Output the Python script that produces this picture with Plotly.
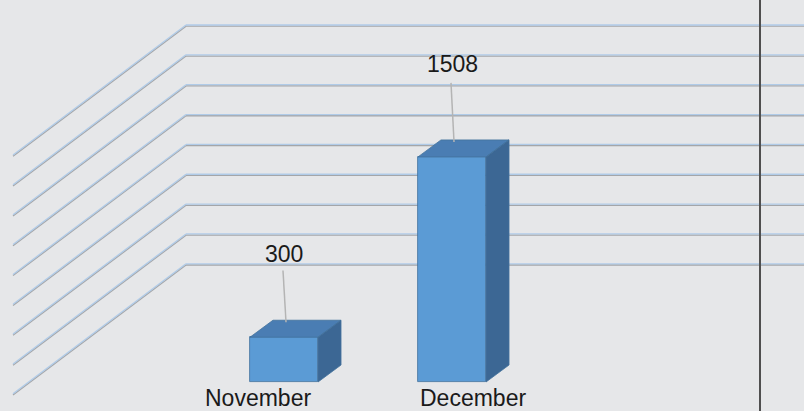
import plotly.graph_objects as go

# data
months = ['November', 'December']
orders = [300, 1508]
grid_values = [0, 200, 400, 600, 800, 1000, 1200, 1400, 1600]

# geometry of the fake 3d box (axis units)
UPP = 6.7                 # value units per pixel
bar_w = 0.405
depth_x = 23 / 168
depth_y = 17 * UPP
wall_left = (186 - 284) / 168
wall_front = (13 - 284) / 168
wall_lift = 117 * UPP
wall_drop = 130 * UPP
x_right = 3.2

front = '#5b9bd5'
top_col = '#4a7db3'
side_col = '#3c6794'
edge = '#41719c'

fig = go.Figure()

# back wall / side wall grid lines, kept under the bars
shapes = []
for g in grid_values:
    yb = g + wall_lift
    for off, col in [(0, '#a4a6a9'), (1.2 * UPP, '#b0cbe8')]:
        shapes.append(dict(type='line', xref='x', yref='y', layer='below',
                           x0=wall_front, y0=yb - wall_drop + off, x1=wall_left, y1=yb + off,
                           line=dict(color=col, width=1.3)))
        shapes.append(dict(type='line', xref='x', yref='y', layer='below',
                           x0=wall_left, y0=yb + off, x1=x_right, y1=yb + off,
                           line=dict(color=col, width=1.3)))

shapes.append(dict(type='line', xref='x', yref='paper', x0=(760 - 284) / 168, x1=(760 - 284) / 168,
                   y0=0, y1=1, line=dict(color='#4f4f4f', width=2)))

# front faces
fig.add_trace(go.Bar(
    x=list(range(len(months))), y=orders, base=0, width=bar_w,
    marker=dict(color=front, line=dict(color=edge, width=0.8)),
    showlegend=False, hoverinfo='skip',
))

# top and side faces
for i, v in enumerate(orders):
    x0 = i - bar_w / 2
    x1 = i + bar_w / 2
    fig.add_trace(go.Scatter(
        x=[x0, x1, x1 + depth_x, x0 + depth_x, x0],
        y=[v, v, v + depth_y, v + depth_y, v],
        mode='lines', fill='toself', fillcolor=top_col,
        line=dict(color=edge, width=0.8), hoverinfo='skip', showlegend=False))
    fig.add_trace(go.Scatter(
        x=[x1, x1, x1 + depth_x, x1 + depth_x, x1],
        y=[0, v, v + depth_y, depth_y, 0],
        mode='lines', fill='toself', fillcolor=side_col,
        line=dict(color=edge, width=0.8), hoverinfo='skip', showlegend=False))
    # leader line
    fig.add_trace(go.Scatter(
        x=[i + 0.012, i - 0.006], y=[v + 15 * UPP, v + (65 + 0.006 * v) * UPP],
        mode='lines', line=dict(color='#b4b4b4', width=1.5),
        hoverinfo='skip', showlegend=False))

annotations = []
for i, v in enumerate(orders):
    annotations.append(dict(x=i, y=v, xref='x', yref='y', text=str(v), showarrow=False,
                            yanchor='middle', yshift=81 + 0.008 * v,
                            font=dict(family='Liberation Sans, Arial', size=23, color='#1a1a1a')))
label_shift = [-26, 21]
for i, m in enumerate(months):
    annotations.append(dict(x=i, y=0, xref='x', yref='y', text=m, showarrow=False,
                            yanchor='middle', yshift=-16, xshift=label_shift[i],
                            font=dict(family='Liberation Sans, Arial', size=23, color='#1a1a1a')))

fig.update_layout(
    width=804, height=411,
    margin=dict(l=0, r=0, t=0, b=0),
    paper_bgcolor='#e6e7e9', plot_bgcolor='#e6e7e9',
    xaxis=dict(range=[-284 / 168, (804 - 284) / 168], visible=False, fixedrange=True),
    yaxis=dict(range=[-(411 - 382) * UPP, 382 * UPP], visible=False, fixedrange=True),
    annotations=annotations,
    shapes=shapes,
    bargap=0,
)

fig.write_html('out.html', config={'displayModeBar': False},
               post_script="document.body.style.margin='0';document.body.style.overflow='hidden';"
                           "document.body.style.background='#e6e7e9';")
